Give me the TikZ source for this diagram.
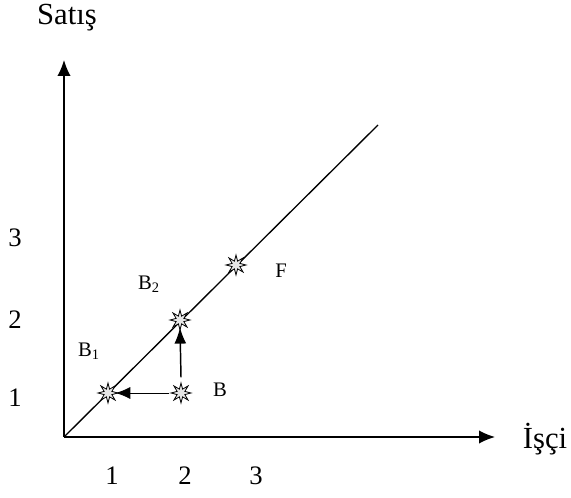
\documentclass[tikz,border=0pt]{standalone}
\usepackage{fontspec}
\setmainfont{Liberation Serif}
\usetikzlibrary{arrows.meta,shapes.geometric}
\tikzset{
  eksen/.style={-{Latex[length=12pt,width=10pt]}, line width=1.1pt},
  okbuyuk/.style={-{Latex[length=12pt,width=9pt]}, line width=1.1pt},
  okince/.style={-{Latex[length=11pt,width=9pt]}, line width=0.6pt},
  yildiz/.style={star, star points=8, star point ratio=2.4, draw, fill=gray!20, minimum size=15pt, inner sep=0pt, line width=0.6pt},
  etiket/.style={font=\fontsize{15.5}{15.5}\selectfont},
  sayi/.style={font=\fontsize{20}{20}\selectfont},
  baslik/.style={font=\fontsize{23}{23}\selectfont},
}
\begin{document}
\begin{tikzpicture}[x=0.75pt,y=-0.75pt]
\useasboundingbox (0,0) rectangle (571,498);
% eksenler
\coordinate (O) at (64,437);
\coordinate (ytop) at (64,60);
\coordinate (xend) at (495,437);
\coordinate (cend) at (378,125);
\draw[eksen] (O) -- (ytop);
\draw[eksen] (O) -- (xend);
\draw[line width=1pt] (O) -- (cend);
\node[baslik] (satis) at (67,18) {Satış};
\node[baslik] (isci) at (545,439) {İşçi};
% sayilar
\node[sayi] (y1) at (15,398) {1};
\node[sayi] (y2) at (15,320) {2};
\node[sayi] (y3) at (15,238) {3};
\node[sayi] (x1) at (112,476) {1};
\node[sayi] (x2) at (185,476) {2};
\node[sayi] (x3) at (256,476) {3};
% noktalar
\node[yildiz] (B1) at (108,393) {};
\node[yildiz] (B) at (181,393) {};
\node[yildiz] (B2) at (180,320) {};
\node[yildiz] (F) at (236,265) {};
\draw[okince] (B) -- ([xshift=-3pt]B1.east);
\draw[okbuyuk] (B.north) ++(0,-4) coordinate (bup) (bup) -- ([yshift=3pt]B2.south);
\node[etiket] (lB1) at (89,351) {B\textsubscript{1}};
\node[etiket] (lB2) at (149,284) {B\textsubscript{2}};
\node[etiket] (lB) at (220,390) {B};
\node[etiket] (lF) at (281,271) {F};
\end{tikzpicture}
\end{document}
